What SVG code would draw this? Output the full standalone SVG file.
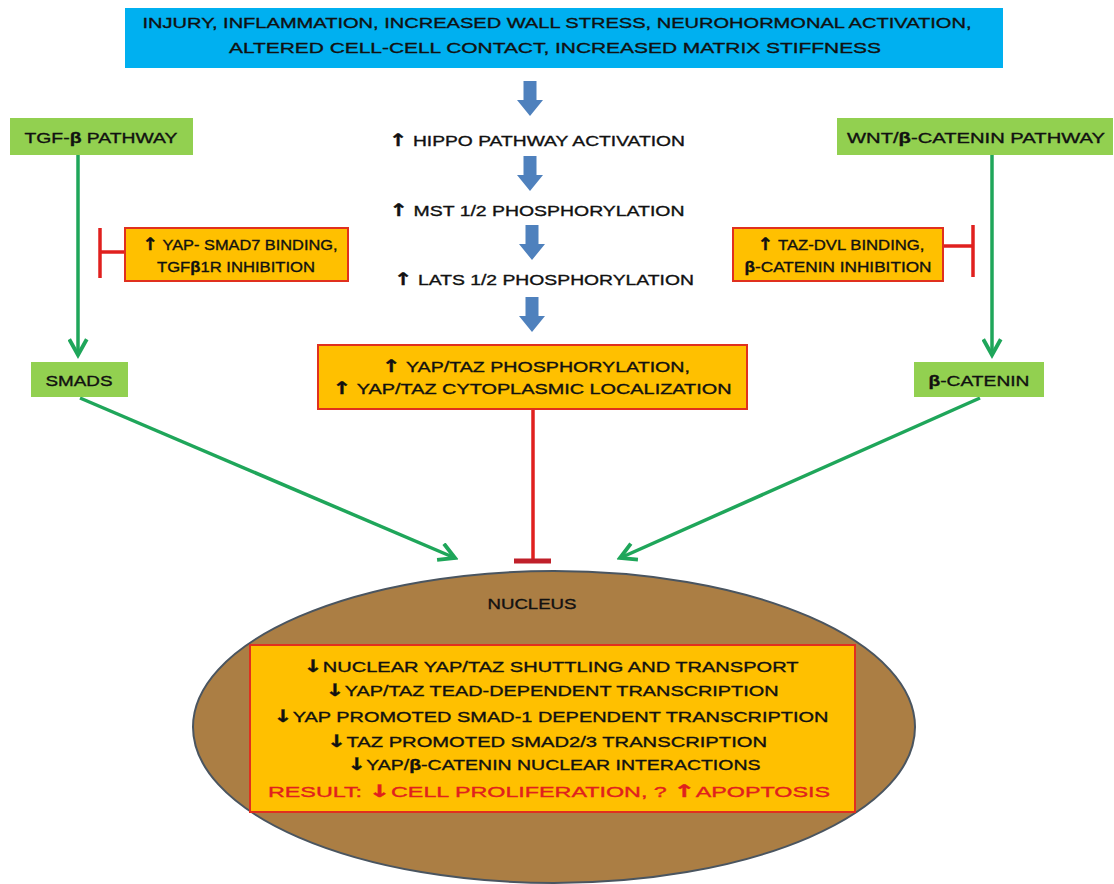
<svg xmlns="http://www.w3.org/2000/svg" width="1114" height="884" viewBox="0 0 1114 884">
<defs>
<style>
.t{font-family:"Liberation Sans",Arial,sans-serif;fill:#111;stroke:#111;stroke-width:0.35;text-anchor:middle;font-size:15px}
.a{font-family:"DejaVu Sans",sans-serif;font-weight:bold;font-size:1.15em}
.green{fill:#92D050}
.orange{fill:#FFC000;stroke:#E0301E;stroke-width:2}
.gl{stroke:#1FA65A;stroke-width:3.5;fill:none}
.rl{stroke:#E0201E;stroke-width:3.5;fill:none}
.blk{fill:#4F81BD}
.red{fill:#E0201E;stroke:#E0201E}
</style>
<marker id="ga" viewBox="0 0 12 12" refX="10" refY="6" markerWidth="6" markerHeight="6" orient="auto" markerUnits="strokeWidth">
<path d="M1,1 L10,6 L1,11" fill="none" stroke="#1FA65A" stroke-width="2.2"/>
</marker>
<path id="barrow" d="M-6.5,0 H6.5 V19 H13 L0,35 L-13,19 H-6.5 Z"/>
</defs>
<rect width="1114" height="884" fill="#fff"/>

<g id="top">
<rect x="125" y="8" width="878" height="60" fill="#00B0F0"/>
<text class="t" x="557" y="28" font-size="16" textLength="829" lengthAdjust="spacingAndGlyphs">INJURY, INFLAMMATION,  INCREASED  WALL STRESS, NEUROHORMONAL ACTIVATION,</text>
<text class="t" x="555" y="53" font-size="16" textLength="652" lengthAdjust="spacingAndGlyphs">ALTERED CELL-CELL CONTACT, INCREASED  MATRIX  STIFFNESS</text>
</g>

<g id="connectors">
<use href="#barrow" class="blk" x="530" y="81"/>
<use href="#barrow" class="blk" x="530" y="156"/>
<use href="#barrow" class="blk" x="532" y="225"/>
<use href="#barrow" class="blk" x="532" y="297"/>
<line class="gl" x1="78" y1="155" x2="78" y2="355" marker-end="url(#ga)"/>
<line class="gl" x1="992" y1="155" x2="992" y2="355" marker-end="url(#ga)"/>
<line class="gl" x1="80" y1="398" x2="455" y2="558" marker-end="url(#ga)"/>
<line class="gl" x1="980" y1="398" x2="620" y2="558" marker-end="url(#ga)"/>
<line class="rl" x1="125" y1="252" x2="100" y2="252"/>
<line class="rl" x1="100" y1="228" x2="100" y2="278"/>
<line class="rl" x1="943" y1="246" x2="973" y2="246"/>
<line class="rl" x1="973" y1="225" x2="973" y2="277"/>
<line class="rl" x1="533" y1="410" x2="533" y2="561"/>
<line x1="514" y1="561" x2="551" y2="561" stroke="#C0202A" stroke-width="5"/>
</g>

<g id="hippo">
<text class="t" x="537" y="146" textLength="296" lengthAdjust="spacingAndGlyphs"><tspan class="a">↑</tspan> HIPPO PATHWAY  ACTIVATION</text>
</g>
<g id="mst">
<text class="t" x="537" y="216" textLength="295" lengthAdjust="spacingAndGlyphs"><tspan class="a">↑</tspan> MST 1/2 PHOSPHORYLATION</text>
</g>
<g id="lats">
<text class="t" x="544" y="285" textLength="300" lengthAdjust="spacingAndGlyphs"><tspan class="a">↑</tspan> LATS 1/2 PHOSPHORYLATION</text>
</g>

<g id="yaptaz">
<rect class="orange" x="318" y="345" width="429" height="64"/>
<text class="t" x="536" y="372" font-size="16" textLength="308" lengthAdjust="spacingAndGlyphs"><tspan class="a">↑</tspan> YAP/TAZ  PHOSPHORYLATION,</text>
<text class="t" x="532" y="394" font-size="16" textLength="399" lengthAdjust="spacingAndGlyphs"><tspan class="a">↑</tspan> YAP/TAZ  CYTOPLASMIC  LOCALIZATION</text>
</g>

<g id="tgf">
<rect class="green" x="10" y="118" width="183" height="37"/>
<text class="t" x="101" y="143" textLength="153" lengthAdjust="spacingAndGlyphs">TGF-<tspan font-weight="bold">β</tspan> PATHWAY</text>
</g>
<g id="smads">
<rect class="green" x="31" y="362" width="97" height="35"/>
<text class="t" x="79" y="386" textLength="67" lengthAdjust="spacingAndGlyphs">SMADS</text>
</g>
<g id="yapsmad7">
<rect class="orange" x="125" y="228" width="223" height="53"/>
<text class="t" x="240" y="250" font-size="14" textLength="195" lengthAdjust="spacingAndGlyphs"><tspan class="a">↑</tspan> YAP- SMAD7 BINDING,</text>
<text class="t" x="236" y="272" font-size="14" textLength="158" lengthAdjust="spacingAndGlyphs">TGF<tspan font-weight="bold">β</tspan>1R INHIBITION</text>
</g>

<g id="wnt">
<rect class="green" x="837" y="118" width="276" height="37"/>
<text class="t" x="976" y="143" textLength="258" lengthAdjust="spacingAndGlyphs">WNT/<tspan font-weight="bold">β</tspan>-CATENIN PATHWAY</text>
</g>
<g id="bcatenin">
<rect class="green" x="914" y="362" width="130" height="35"/>
<text class="t" x="979" y="386" textLength="101" lengthAdjust="spacingAndGlyphs"><tspan font-weight="bold">β</tspan>-CATENIN</text>
</g>
<g id="tazdvl">
<rect class="orange" x="733" y="228" width="210" height="53"/>
<text class="t" x="841" y="250" font-size="14" textLength="167" lengthAdjust="spacingAndGlyphs"><tspan class="a">↑</tspan> TAZ-DVL BINDING,</text>
<text class="t" x="838" y="272" font-size="14" textLength="187" lengthAdjust="spacingAndGlyphs"><tspan font-weight="bold">β</tspan>-CATENIN INHIBITION</text>
</g>

<g id="nucleus">
<ellipse cx="554" cy="727" rx="361" ry="156" fill="#AB7E44" stroke="#4A5560" stroke-width="2"/>
<text class="t" x="532" y="609" textLength="89" lengthAdjust="spacingAndGlyphs">NUCLEUS</text>
<rect class="orange" x="250" y="645" width="605" height="167"/>
<text class="t" x="551" y="672" font-size="18" textLength="495" lengthAdjust="spacingAndGlyphs"><tspan class="a">↓</tspan>NUCLEAR YAP/TAZ  SHUTTLING AND TRANSPORT</text>
<text class="t" x="552" y="696" font-size="18" textLength="453" lengthAdjust="spacingAndGlyphs"><tspan class="a">↓</tspan>YAP/TAZ  TEAD-DEPENDENT  TRANSCRIPTION</text>
<text class="t" x="551" y="722" font-size="18" textLength="555" lengthAdjust="spacingAndGlyphs"><tspan class="a">↓</tspan>YAP PROMOTED SMAD-1 DEPENDENT TRANSCRIPTION</text>
<text class="t" x="547" y="747" font-size="18" textLength="440" lengthAdjust="spacingAndGlyphs"><tspan class="a">↓</tspan>TAZ PROMOTED  SMAD2/3  TRANSCRIPTION</text>
<text class="t" x="554" y="770" font-size="18" textLength="413" lengthAdjust="spacingAndGlyphs"><tspan class="a">↓</tspan>YAP/<tspan font-weight="bold">β</tspan>-CATENIN NUCLEAR INTERACTIONS</text>
<text class="t red" x="549" y="797" font-size="20" textLength="562" lengthAdjust="spacingAndGlyphs">RESULT:  <tspan class="a">↓</tspan>CELL PROLIFERATION,  ? <tspan class="a">↑</tspan>APOPTOSIS</text>
</g>
</svg>
